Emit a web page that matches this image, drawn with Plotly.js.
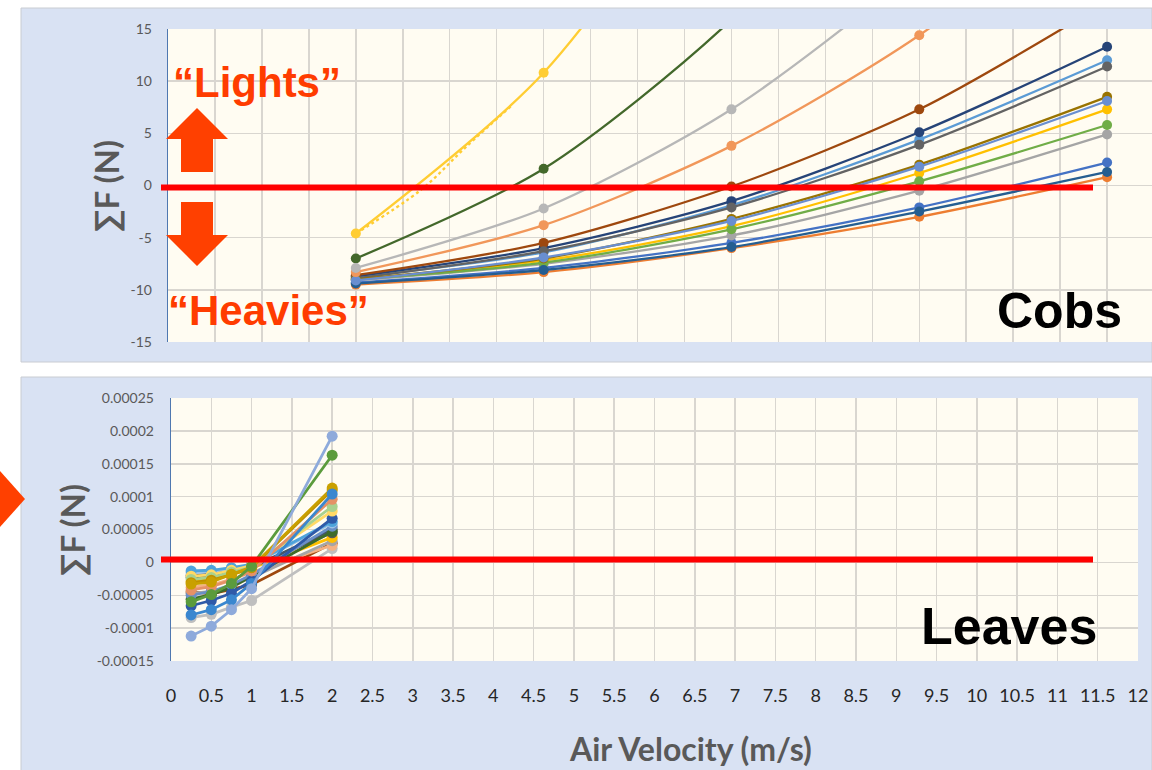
<!DOCTYPE html>
<html>
<head>
<meta charset="utf-8">
<script src="https://cdn.plot.ly/plotly-3.0.1.min.js"></script>
<style>
  html, body { margin: 0; padding: 0; background: #ffffff; }
  #chart { width: 1152px; height: 770px; }
</style>
</head>
<body>
<div id="chart"></div>
<script>
// ---- Air velocities (m/s) ----
const cobVelocity = [2.3, 4.6, 6.9, 9.2, 11.5];
const leafVelocity = [0.25, 0.5, 0.75, 1, 2];

// ---- Net force on each cob sample (N) ----
const cob1  = [-9.3, -7.9, -5.5, -2.1, 2.2];
const cob2  = [-9.5, -8.3, -6.0, -3.0, 0.8];
const cob3  = [-9.1, -7.5, -4.8, -0.5, 4.9];
const cob4  = [-9.0, -7.2, -3.9, 1.2, 7.3];
const cob5  = [-8.8, -6.4, -1.9, 4.4, 12.0];
const cob6  = [-9.0, -7.4, -4.2, 0.4, 5.8];
const cob7  = [-8.7, -6.0, -1.5, 5.1, 13.3];
const cob8  = [-8.6, -5.5, -0.1, 7.3, 17.6];
const cob9  = [-8.9, -6.3, -2.1, 3.9, 11.4];
const cob10 = [-9.0, -7.0, -3.2, 2.0, 8.5];
const cob11 = [-9.4, -8.1, -5.9, -2.5, 1.3];
const cob12 = [-7.0, 1.6, 15.9, 36.0, 62.0];
const cob13 = [-9.1, -6.9, -3.4, 1.8, 8.1];
const cob14 = [-8.3, -3.8, 3.8, 14.4, 28.5];
const cob15 = [-7.9, -2.2, 7.3, 21.0, 38.0];
const cob16 = [-4.6, 10.8, 36.0, 72.0, 118.0];
// trend fitted to the lightest cob sample (dotted)
const cob16TrendVelocity = [2.3, 3.1, 3.65, 4.2];
const cob16Trend = [-4.6, -0.4, 3.7, 7.6];

// ---- Net force on each leaf sample (N) ----
const leaf1  = [-1.12e-4, -0.97e-4, -0.72e-4, -0.40e-4, 1.92e-4];
const leaf2  = [-0.60e-4, -0.49e-4, -0.32e-4, -0.06e-4, 1.63e-4];
const leaf3  = [-0.33e-4, -0.30e-4, -0.18e-4, -0.07e-4, 1.13e-4];
const leaf4  = [-0.80e-4, -0.72e-4, -0.57e-4, -0.32e-4, 1.04e-4];
const leaf5  = [-0.42e-4, -0.37e-4, -0.27e-4, -0.13e-4, 0.96e-4];
const leaf6  = [-0.26e-4, -0.23e-4, -0.15e-4, -0.07e-4, 0.85e-4];
const leaf7  = [-0.21e-4, -0.19e-4, -0.12e-4, -0.05e-4, 0.78e-4];
const leaf8  = [-0.66e-4, -0.58e-4, -0.47e-4, -0.28e-4, 0.67e-4];
const leaf9  = [-0.16e-4, -0.14e-4, -0.09e-4, -0.04e-4, 0.60e-4];
const leaf10 = [-0.50e-4, -0.44e-4, -0.34e-4, -0.19e-4, 0.55e-4];
const leaf11 = [-0.56e-4, -0.49e-4, -0.38e-4, -0.21e-4, 0.47e-4];
const leaf12 = [-0.29e-4, -0.26e-4, -0.19e-4, -0.09e-4, 0.38e-4];
const leaf13 = [-0.45e-4, -0.48e-4, -0.41e-4, -0.34e-4, 0.29e-4];
const leaf14 = [-0.38e-4, -0.34e-4, -0.26e-4, -0.15e-4, 0.26e-4];
const leaf15 = [-0.84e-4, -0.79e-4, -0.68e-4, -0.58e-4, 0.21e-4];
const leaf16 = [-0.23e-4, -0.21e-4, -0.15e-4, -0.08e-4, 0.50e-4];
const leaf17 = [-0.47e-4, -0.44e-4, -0.36e-4, -0.23e-4, 0.33e-4];
const leaf18 = [-0.13e-4, -0.12e-4, -0.08e-4, -0.03e-4, 0.62e-4];
const leaf19 = [-0.20e-4, -0.18e-4, -0.13e-4, -0.06e-4, 0.45e-4];
const leaf20 = [-0.31e-4, -0.27e-4, -0.19e-4, -0.08e-4, 1.10e-4];

// ---- Axis ticks ----
const cobTickValues = [-15, -10, -5, 0, 5, 10, 15];
const cobTickLabels = ['-15', '-10', '-5', '0', '5', '10', '15'];
const leafTickValues = [-0.00015, -0.0001, -0.00005, 0, 0.00005, 0.0001, 0.00015, 0.0002, 0.00025];
const leafTickLabels = ['-0.00015', '-0.0001', '-0.00005', '0', '0.00005', '0.0001', '0.00015', '0.0002', '0.00025'];
const velocityTickValues = [0, 0.5, 1, 1.5, 2, 2.5, 3, 3.5, 4, 4.5, 5, 5.5, 6, 6.5, 7, 7.5, 8, 8.5, 9, 9.5, 10, 10.5, 11, 11.5, 12];
const velocityTickLabels = ['0', '0.5', '1', '1.5', '2', '2.5', '3', '3.5', '4', '4.5', '5', '5.5', '6', '6.5', '7', '7.5', '8', '8.5', '9', '9.5', '10', '10.5', '11', '11.5', '12'];

// ---- Series drawing order and colours ----
const cobSeries = [cob1, cob2, cob3, cob4, cob5, cob6, cob7, cob8, cob9, cob10, cob11, cob12, cob13, cob14, cob15, cob16];
const cobColors = ['#4472c4', '#ed7d31', '#a5a5a5', '#ffc000', '#5b9bd5', '#70ad47', '#264478', '#9e480e',
                   '#636363', '#997300', '#255e91', '#43682b', '#698ed0', '#f1975a', '#b7b7b7', '#ffcd33'];

const leafSeries = [leaf15, leaf13, leaf14, leaf17, leaf12, leaf19, leaf16, leaf11, leaf10, leaf9,
                    leaf18, leaf8, leaf7, leaf6, leaf5, leaf20, leaf3, leaf4, leaf2, leaf1];
const leafColors = ['#bfbfbf', '#9e480e', '#f4b183', '#a5a5a5', '#ffc000', '#595959', '#44546a', '#3d6b2a', '#6a8fc7', '#9dc3e6',
                    '#4ea3db', '#2f5aa8', '#ffd966', '#a9d18e', '#e59166', '#bf9000', '#c9a000', '#3a87cf', '#5b9b3c', '#8eaadb'];

// ---- Page geometry helpers (pixels -> paper fractions) ----
const W = 1152, H = 770;
const px = v => v / W;
const py = v => 1 - v / H;
const poly = pts => 'M ' + pts.map(p => px(p[0]).toFixed(5) + ',' + py(p[1]).toFixed(5)).join(' L ') + ' Z';

const traces = [];
cobSeries.forEach((ys, i) => {
  traces.push({
    type: 'scatter', mode: 'lines+markers', xaxis: 'x', yaxis: 'y',
    x: cobVelocity, y: ys,
    line: { color: cobColors[i], width: 2.3, shape: 'spline', smoothing: 0.8 },
    marker: { color: cobColors[i], size: 10 },
    hoverinfo: 'x+y'
  });
});
traces.push({
  type: 'scatter', mode: 'lines', xaxis: 'x', yaxis: 'y',
  x: cob16TrendVelocity, y: cob16Trend,
  line: { color: '#ffcd33', width: 2.3, dash: 'dot', shape: 'spline' },
  hoverinfo: 'skip'
});
leafSeries.forEach((ys, i) => {
  traces.push({
    type: 'scatter', mode: 'lines+markers', xaxis: 'x2', yaxis: 'y2',
    x: leafVelocity, y: ys,
    line: { color: leafColors[i], width: 2.8 },
    marker: { color: leafColors[i], size: 11 },
    hoverinfo: 'x+y'
  });
});

const gridColor = '#d9d6d0';
const tickFont = { family: 'Lato, "Open Sans", sans-serif', size: 14, color: '#595959' };
const titleFont = { family: 'Lato, "Open Sans", sans-serif', size: 33, color: '#595959' };
const arrowRed = '#ff4000';
const panelFill = '#d9e2f3';
const plotFill = '#fffcf2';

const layout = {
  width: W, height: H, autosize: false,
  margin: { l: 0, r: 0, t: 0, b: 0, pad: 0 },
  paper_bgcolor: '#ffffff',
  plot_bgcolor: 'rgba(0,0,0,0)',
  showlegend: false,
  // Cobs panel
  xaxis: {
    domain: [px(168), 1], anchor: 'y', range: [0, 12.05],
    tick0: 0, dtick: 0.575, showticklabels: false, ticks: '',
    showgrid: true, gridcolor: gridColor, gridwidth: 1.5, zeroline: false, showline: false
  },
  yaxis: {
    domain: [py(342), py(29)], anchor: 'x', range: [-15, 15],
    tickmode: 'array', tickvals: cobTickValues, ticktext: cobTickLabels,
    ticks: 'outside', ticklen: 12, tickcolor: 'rgba(0,0,0,0)', tickfont: tickFont,
    showgrid: true, gridcolor: gridColor, gridwidth: 1.5, zeroline: false,
    showline: true, linecolor: '#4f78b0', linewidth: 1.3
  },
  // Leaves panel
  xaxis2: {
    domain: [px(171), px(1138)], anchor: 'y2', range: [0, 12],
    tickmode: 'array', tickvals: velocityTickValues, ticktext: velocityTickLabels,
    ticks: 'outside', ticklen: 18, tickcolor: 'rgba(0,0,0,0)',
    tickfont: { family: 'Lato, "Open Sans", sans-serif', size: 18, color: '#262626' },
    showgrid: true, gridcolor: gridColor, gridwidth: 1.5, zeroline: false, showline: false
  },
  yaxis2: {
    domain: [py(661), py(398)], anchor: 'x2', range: [-0.00015, 0.00025],
    tickmode: 'array', tickvals: leafTickValues, ticktext: leafTickLabels,
    ticks: 'outside', ticklen: 13, tickcolor: 'rgba(0,0,0,0)', tickfont: tickFont,
    showgrid: true, gridcolor: gridColor, gridwidth: 1.5, zeroline: false,
    showline: true, linecolor: '#4f78b0', linewidth: 1.3
  },
  shapes: [
    // panel backgrounds
    { type: 'rect', xref: 'paper', yref: 'paper', layer: 'below',
      x0: px(21), x1: 1, y0: py(362), y1: py(8),
      fillcolor: panelFill, line: { color: '#c9ccd2', width: 1 } },
    { type: 'rect', xref: 'paper', yref: 'paper', layer: 'below',
      x0: px(21), x1: 1, y0: py(772), y1: py(377),
      fillcolor: panelFill, line: { color: '#c9ccd2', width: 1 } },
    // plot-area fills
    { type: 'rect', xref: 'x domain', yref: 'y domain', layer: 'below',
      x0: 0, x1: 1, y0: 0, y1: 1, fillcolor: plotFill, line: { width: 0 } },
    { type: 'rect', xref: 'x2 domain', yref: 'y2 domain', layer: 'below',
      x0: 0, x1: 1, y0: 0, y1: 1, fillcolor: plotFill, line: { width: 0 } },
    // zero-force lines
    { type: 'line', xref: 'paper', yref: 'paper', layer: 'above',
      x0: px(161), x1: px(1093), y0: py(187.5), y1: py(187.5),
      line: { color: '#ff0000', width: 6 } },
    { type: 'line', xref: 'paper', yref: 'paper', layer: 'above',
      x0: px(161), x1: px(1093), y0: py(559.5), y1: py(559.5),
      line: { color: '#ff0000', width: 6 } },
    // up / down arrows
    { type: 'path', xref: 'paper', yref: 'paper', layer: 'above',
      path: poly([[197, 108], [228, 139], [213, 139], [213, 172], [181, 172], [181, 139], [166, 139]]),
      fillcolor: arrowRed, line: { width: 0 } },
    { type: 'path', xref: 'paper', yref: 'paper', layer: 'above',
      path: poly([[181, 202], [213, 202], [213, 235], [228, 235], [197, 266], [166, 235], [181, 235]]),
      fillcolor: arrowRed, line: { width: 0 } },
    // pointer at the left edge
    { type: 'path', xref: 'paper', yref: 'paper', layer: 'above',
      path: poly([[0, 471], [25, 499], [0, 527]]),
      fillcolor: arrowRed, line: { width: 0 } }
  ],
  annotations: [
    { xref: 'paper', yref: 'paper', x: px(171), y: py(82), xanchor: 'left', yanchor: 'middle', showarrow: false,
      text: '<b>\u201cLights\u201d</b>', font: { family: '"Liberation Sans", Arial, sans-serif', size: 42, color: '#ff3c00' } },
    { xref: 'paper', yref: 'paper', x: px(166), y: py(310), xanchor: 'left', yanchor: 'middle', showarrow: false,
      text: '<b>\u201cHeavies\u201d</b>', font: { family: '"Liberation Sans", Arial, sans-serif', size: 42, color: '#ff3c00' } },
    { xref: 'paper', yref: 'paper', x: px(1124), y: py(311), xanchor: 'right', yanchor: 'middle', showarrow: false,
      text: '<b>Cobs</b>', font: { family: '"Liberation Sans", Arial, sans-serif', size: 50, color: '#000000' } },
    { xref: 'paper', yref: 'paper', x: px(1099), y: py(626), xanchor: 'right', yanchor: 'middle', showarrow: false,
      text: '<b>Leaves</b>', font: { family: '"Liberation Sans", Arial, sans-serif', size: 52, color: '#000000' } },
    { xref: 'paper', yref: 'paper', x: px(106), y: py(186), xanchor: 'center', yanchor: 'middle', showarrow: false,
      textangle: -90, text: '<b>\u2211F (N)</b>', font: titleFont },
    { xref: 'paper', yref: 'paper', x: px(72), y: py(530), xanchor: 'center', yanchor: 'middle', showarrow: false,
      textangle: -90, text: '<b>\u2211F (N)</b>', font: titleFont },
    { xref: 'paper', yref: 'paper', x: px(690), y: py(748), xanchor: 'center', yanchor: 'middle', showarrow: false,
      text: '<b>Air Velocity (m/s)</b>', font: { family: 'Lato, "Open Sans", sans-serif', size: 32, color: '#595959' } }
  ]
};

Plotly.newPlot('chart', traces, layout, { staticPlot: true, displayModeBar: false });
</script>
</body>
</html>
